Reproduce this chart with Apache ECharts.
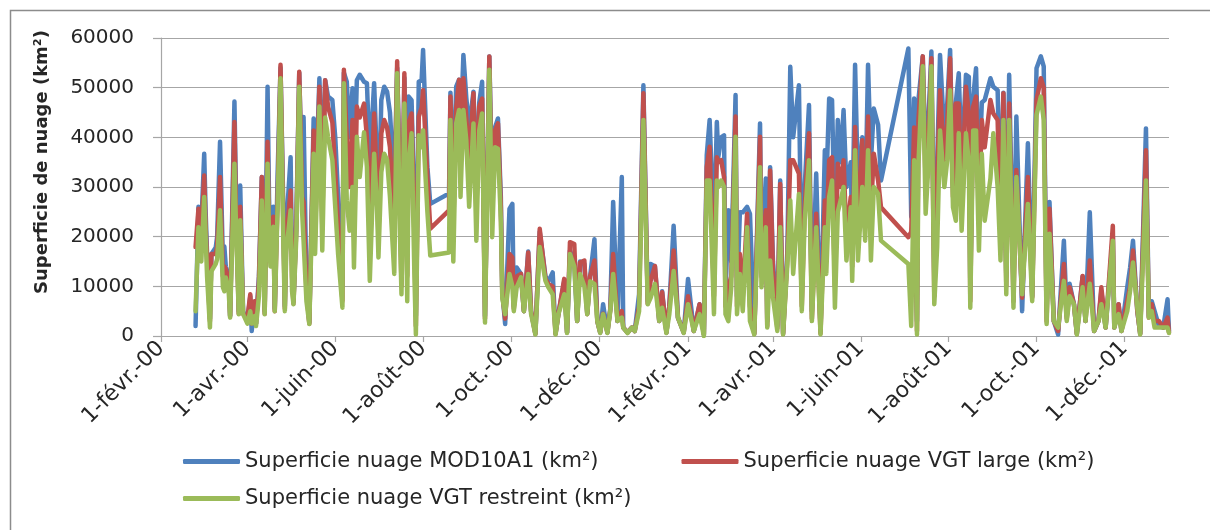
<!DOCTYPE html>
<html>
<head>
<meta charset="utf-8">
<script src="https://cdn.jsdelivr.net/npm/echarts@6/dist/echarts.min.js"></script>
<style>
  html, body { margin: 0; padding: 0; background: #fff; }
  #chart { width: 1210px; height: 530px; }
</style>
</head>
<body>
<div id="chart"></div>
<script>
// x = days since 1-févr.-00 (gaps in the record are kept as gaps in the days)
const days = [
  24, 26, 28, 30, 31, 32, 34, 35, 38, 39,
  41, 43, 44, 45, 47, 48, 51, 52, 54, 55,
  57, 60, 62, 63, 65, 66, 68, 70, 71, 72,
  74, 75, 76, 78, 79, 81, 83, 85, 86, 87,
  90, 91, 92, 94, 96, 98, 99, 101, 103, 106,
  107, 110, 112, 114, 116, 119, 121, 123, 126, 127,
  129, 131, 133, 134, 136, 138, 141, 143, 145, 148,
  150, 151, 153, 155, 157, 159, 162, 164, 166, 167,
  169, 171, 172, 174, 176, 177, 179, 181, 182, 185,
  187,
  200, 201, 203, 205, 207, 208, 210, 212, 214, 217,
  219, 221, 223, 225, 228, 230, 232, 234, 236, 237,
  239, 242, 244, 245, 247, 250, 252, 255, 257, 260,
  263, 267, 269, 272, 274, 276, 280, 282, 284, 287,
  289, 291, 294, 296, 298, 301, 303, 305, 307, 310,
  312, 314, 317, 320, 321, 324, 327, 329, 332, 335,
  338, 340, 343, 346, 348, 351, 353, 356, 359, 363,
  366, 370, 374, 377,
  379, 381, 384, 386, 387, 389, 391, 392, 394, 396,
  399, 400, 402, 404, 407, 409, 412, 416, 417, 420,
  421, 423, 425, 428, 430, 432, 435, 437, 439, 443,
  445, 447, 450, 452, 455, 458, 461, 462, 464, 466,
  468, 470, 472, 474, 476, 479, 480, 482, 484, 487,
  489, 491, 493, 495, 498, 500,
  519, 521, 523, 525, 526, 529, 531, 533, 535, 537,
  539, 541, 544, 546, 548, 550, 552, 554, 556, 559,
  561, 562, 564, 566, 568, 570, 572, 576, 578, 581,
  583, 585, 587, 589, 592, 594, 598, 602, 605, 608,
  611, 613, 615, 617, 620, 623, 627, 629, 631, 634,
  636, 640, 642, 645, 648, 651, 653, 656, 661, 662,
  665, 667, 671, 673, 675, 678, 680, 684, 686, 688,
  690, 693, 696, 699, 700
];

const mod10a1 = [
  2000, 26000, 22000, 36700, 25000, 16500, 3500, 16500, 17800, 20000,
  39100, 15000, 18000, 14000, 11800, 4000, 47200, 30000, 5000, 30300,
  5000, 3000, 8000, 1000, 6500, 2500, 12000, 32000, 20000, 5000,
  50200, 28000, 16500, 26000, 5500, 32700, 54000, 25000, 6000, 22000,
  36000, 15000, 7000, 23000, 53000, 30000, 44100, 10000, 2800, 43800,
  25000, 51900, 32000, 51500, 48200, 47500, 40000, 28000, 10000, 53000,
  51200, 40000, 49900, 30000, 51500, 52600, 51200, 50900, 35000, 50900,
  35000, 24000, 47500, 50200, 49200, 45000, 30000, 54000, 30000, 12000,
  52000, 20000, 48200, 47500, 25000, 4000, 51200, 51500, 57600, 34000,
  26600,
  28700, 49000, 30000, 50200, 51600, 40000, 56600, 48000, 42000, 49200,
  30000, 47000, 51200, 4000, 56300, 30000, 42000, 43800, 28000, 9000,
  2400, 25600, 26600, 6000, 13800, 12500, 5000, 17000, 5000, 500,
  21000, 12000, 11000, 12800, 500, 4500, 11000, 700, 17200, 15000,
  3000, 15000, 14500, 4500, 12000, 19500, 3000, 700, 6400, 700,
  5500, 27000, 3000, 32000, 1700, 700, 1700, 1000, 8400, 50500,
  7000, 14500, 14000, 3000, 9000, 700, 6000, 22200, 3700, 700,
  11500, 1000, 6400, 300,
  36400, 43500, 20000, 43100, 36000, 40000, 40400, 8000, 25300, 15000,
  48500, 8000, 24900, 24900, 26000, 24600, 500, 42800, 15000, 31700,
  3000, 34000, 15000, 2000, 31300, 600, 17200, 54200, 40000, 50500,
  10000, 30000, 46500, 5000, 32700, 1000, 37400, 30000, 47800, 47500,
  20000, 43500, 35000, 45500, 30000, 35000, 20000, 54600, 30000, 40000,
  25000, 54600, 35000, 45800, 42500, 31300,
  57900, 24000, 47800, 3000, 47500, 56300, 35000, 44000, 57300, 12000,
  35000, 56600, 40000, 46800, 57600, 30000, 47000, 52900, 35000, 52600,
  52200, 10000, 48000, 53900, 30000, 47000, 47500, 51900, 50200, 49500,
  25000, 49000, 12000, 52600, 10000, 44200, 5000, 38800, 8000, 53900,
  56300, 54300, 5000, 27000, 3000, 300, 19200, 4000, 10500, 6400,
  500, 12000, 3000, 24900, 1000, 3000, 9000, 1700, 20000, 1700,
  6400, 1000, 9800, 13800, 19200, 5000, 500, 41800, 4000, 7000,
  5000, 2000, 1700, 7400, 1000
];

const vgtLarge = [
  17900, 25600, 21000, 32300, 22000, 15500, 3000, 16500, 16500, 18000,
  32000, 12000, 14000, 13500, 11000, 4000, 43100, 26000, 4500, 26000,
  4500, 3500, 8400, 2500, 7000, 2500, 11000, 32000, 18000, 4500,
  39100, 22000, 15500, 24000, 5000, 28000, 54600, 22000, 5500, 20000,
  29300, 12000, 6500, 22000, 53200, 28000, 27000, 9000, 2500, 41400,
  20000, 50200, 22000, 51500, 46200, 43000, 33000, 22000, 7000, 53600,
  40000, 30000, 43500, 20000, 46200, 44000, 46800, 40000, 22000, 44800,
  30000, 20000, 40800, 43500, 42000, 38000, 22000, 55300, 25000, 10000,
  52900, 12000, 42800, 44800, 20000, 2000, 44200, 46000, 49500, 32000,
  21600,
  25300, 48200, 22000, 46000, 51600, 38000, 51900, 44000, 35000, 48900,
  25000, 46200, 47800, 3500, 56300, 25000, 41400, 42800, 26000, 8500,
  3500, 16500, 15800, 5500, 12000, 12500, 5000, 16800, 5000, 400,
  21600, 11500, 10500, 10000, 400, 4400, 11500, 700, 18900, 18500,
  3000, 14800, 15200, 4400, 12000, 15200, 3000, 700, 4500, 700,
  5300, 16500, 3000, 5000, 1700, 700, 1700, 1000, 6000, 48900,
  6500, 11100, 14100, 3000, 8800, 700, 6000, 17200, 3700, 700,
  8000, 1000, 6400, 300,
  34000, 38100, 8000, 36000, 35000, 35400, 32000, 6000, 9800, 12000,
  44200, 6000, 16500, 8000, 24600, 6000, 400, 40100, 12000, 25300,
  2000, 33300, 13100, 1500, 30600, 400, 15800, 35400, 35400, 32700,
  6000, 25900, 40800, 3500, 24600, 500, 27300, 20000, 35400, 36000,
  10000, 34700, 30000, 35400, 20000, 28000, 14000, 42100, 20000, 39400,
  22000, 44200, 25000, 36700, 31300, 25900,
  19900, 21000, 42000, 1000, 43500, 56300, 30000, 40000, 55900, 8000,
  32000, 49500, 35000, 42800, 55900, 28000, 46800, 46800, 28000, 50200,
  44800, 7000, 46200, 48200, 25000, 43500, 38000, 47500, 44800, 43500,
  20000, 48900, 10000, 46800, 7000, 33400, 7700, 32000, 7700, 47500,
  51900, 50000, 3000, 25600, 3000, 1000, 14500, 3500, 9800, 6400,
  400, 12100, 3000, 15200, 1000, 3000, 9800, 1700, 22200, 1700,
  6400, 1000, 7000, 10000, 17200, 5000, 400, 37400, 3700, 6400,
  3000, 3000, 1700, 3700, 700
];

const vgtRestreint = [
  5000, 21900, 15000, 28000, 20000, 12000, 1700, 13000, 14500, 15500,
  25300, 9800, 9000, 11800, 9000, 3700, 34700, 23000, 4400, 23300,
  4400, 2500, 5000, 2500, 4000, 2000, 8000, 27300, 15000, 4400,
  34700, 20000, 14000, 22000, 5000, 26000, 51900, 18000, 5000, 17000,
  25300, 9000, 6400, 20000, 50200, 25000, 19200, 7000, 2400, 36700,
  16500, 46200, 17200, 44000, 40100, 35400, 26000, 16500, 5700, 50900,
  27300, 21200, 30000, 13800, 40100, 32000, 41000, 34000, 11100, 36700,
  26000, 15800, 33000, 36700, 35400, 28000, 12500, 52900, 20000, 8400,
  46800, 7000, 35000, 40800, 12000, 300, 40400, 38000, 41400, 25000,
  16200,
  16800, 43500, 15000, 42800, 45500, 28000, 45500, 39400, 26000, 42800,
  19200, 41400, 44800, 2700, 53600, 19900, 38000, 37700, 23200, 7700,
  4400, 12500, 10000, 5000, 9800, 11800, 5000, 12500, 4400, 300,
  17900, 11100, 9800, 8400, 300, 4400, 8400, 600, 16500, 14000,
  3000, 12500, 10000, 4400, 11000, 10500, 3000, 600, 4400, 600,
  5000, 12500, 3000, 3700, 1700, 600, 1700, 1000, 5000, 43500,
  6400, 7700, 10500, 3000, 5700, 600, 4400, 13100, 3700, 600,
  6400, 1000, 4400, 0,
  31300, 31300, 4400, 31300, 30000, 31300, 30000, 4400, 3000, 9800,
  40100, 4400, 12500, 5000, 21900, 3000, 300, 34000, 9800, 21900,
  1700, 15200, 7700, 1000, 21900, 300, 14500, 27300, 12500, 28600,
  5000, 23200, 35400, 3000, 21900, 300, 21900, 12500, 28000, 31300,
  5700, 25000, 27300, 30000, 15200, 25900, 11100, 37400, 15200, 30000,
  19200, 37400, 15200, 30000, 28600, 19200,
  14500, 2000, 35400, 300, 34700, 54300, 24600, 34700, 54300, 6400,
  17900, 41400, 30000, 35400, 49500, 25900, 23200, 40800, 21200, 40800,
  35000, 5700, 41400, 41400, 17200, 36700, 23200, 31700, 40800, 30000,
  15200, 43500, 8400, 43500, 5700, 32000, 8400, 26600, 7000, 44500,
  48200, 43500, 2400, 20600, 3000, 1700, 11100, 3000, 8000, 6400,
  300, 9800, 3000, 10500, 1000, 3000, 6400, 1700, 19200, 1700,
  4400, 1000, 5000, 9100, 14800, 5700, 300, 31300, 3700, 5000,
  1700, 1700, 1700, 1700, 600
];

const seriesNames = [
  'Superficie nuage MOD10A1 (km²)',
  'Superficie nuage VGT large (km²)',
  'Superficie nuage VGT restreint (km²)'
];
const seriesColors = ['#4F81BD', '#C0504D', '#9BBB59'];

// ticks every two months, as day offsets from 1-févr.-00
const tickDays = [0, 60, 121, 182, 243, 304, 366, 425, 486, 547, 608, 669];
const tickLabels = [
  '1-févr.-00', '1-avr.-00', '1-juin-00', '1-août-00', '1-oct.-00', '1-déc.-00',
  '1-févr.-01', '1-avr.-01', '1-juin-01', '1-août-01', '1-oct.-01', '1-déc.-01'
];
const yTicks = [0, 10000, 20000, 30000, 40000, 50000, 60000];

const FONT = 'DejaVu Sans';
const TEXT = '#262626';
const GRID = '#a6a6a6';

const chart = echarts.init(document.getElementById('chart'));

function makeSeries(values, idx) {
  return {
    name: seriesNames[idx],
    type: 'line',
    data: days.map((d, i) => [d, values[i]]),
    showSymbol: false,
    symbol: 'none',
    color: seriesColors[idx],
    lineStyle: { width: 4.5, color: seriesColors[idx], cap: 'round', join: 'round' },
    emphasis: { disabled: true }
  };
}

const legendBase = {
  left: 183,
  padding: 0,
  itemWidth: 57,
  itemHeight: 5,
  icon: 'roundRect',
  textStyle: { fontFamily: FONT, fontSize: 21, color: TEXT },
  selectedMode: false
};

chart.setOption({
  animation: false,
  textStyle: { fontFamily: FONT },
  graphic: [{
    type: 'rect',
    shape: { x: 10.5, y: 10.5, width: 1300, height: 600 },
    style: { fill: null, stroke: '#8c8c8c', lineWidth: 1.5 },
    silent: true
  }],
  grid: { left: 161, right: 41, top: 38, bottom: 194 },
  legend: [
    Object.assign({}, legendBase, {
      data: [seriesNames[0], seriesNames[1]],
      top: 451,
      itemGap: 83
    }),
    Object.assign({}, legendBase, {
      data: [seriesNames[2]],
      top: 488
    })
  ],
  xAxis: {
    type: 'value',
    min: 0,
    max: 700,
    axisLine: { show: true, onZero: false, lineStyle: { color: GRID, width: 1.2 } },
    axisTick: { show: true, customValues: tickDays, length: 6, lineStyle: { color: GRID, width: 1.2 } },
    axisLabel: {
      customValues: tickDays,
      rotate: 45,
      margin: 9,
      fontFamily: FONT,
      fontSize: 22,
      color: TEXT,
      formatter: v => tickLabels[tickDays.indexOf(v)]
    },
    splitLine: { show: false }
  },
  yAxis: {
    type: 'value',
    min: yTicks[0],
    max: yTicks[yTicks.length - 1],
    interval: 10000,
    name: 'Superficie de nuage (km²)',
    nameLocation: 'middle',
    nameGap: 110,
    nameTextStyle: {
      fontFamily: FONT, fontSize: 18, fontWeight: 'bold', color: TEXT,
      padding: [0, 0, 0, 50]
    },
    axisLine: { show: true, lineStyle: { color: GRID, width: 1.2 } },
    axisTick: { show: true, length: 8, lineStyle: { color: GRID, width: 1.2 } },
    axisLabel: {
      margin: 27, fontFamily: FONT, fontSize: 20, color: TEXT,
      formatter: v => String(v)
    },
    splitLine: { show: true, lineStyle: { color: GRID, width: 1.2 } }
  },
  series: [
    makeSeries(mod10a1, 0),
    makeSeries(vgtLarge, 1),
    makeSeries(vgtRestreint, 2)
  ]
});
</script>
</body>
</html>
